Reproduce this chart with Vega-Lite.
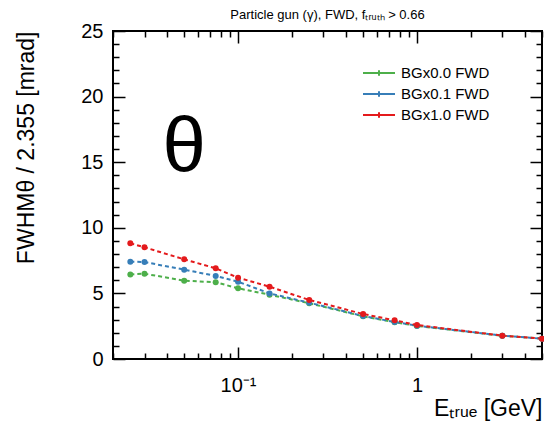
{
  "$schema": "https://vega.github.io/schema/vega-lite/v6.json",
  "width": 429,
  "height": 328,
  "autosize": {"type": "none"},
  "padding": {"left": 113, "top": 31, "right": 2, "bottom": 70},
  "background": "white",
  "config": {
    "view": {"stroke": "black", "strokeWidth": 2},
    "font": "Liberation Sans",
    "axis": {
      "domain": false,
      "grid": false,
      "labelFont": "Liberation Sans",
      "labelFontSize": 20,
      "labelColor": "black",
      "titleFont": "Liberation Sans",
      "titleFontSize": 23,
      "titleFontWeight": "normal",
      "titleColor": "black",
      "tickColor": "black",
      "tickWidth": 1.5
    }
  },
  "title": {
    "text": "Particle gun (γ), FWD, fₜᵣᵤₜₕ > 0.66",
    "font": "Liberation Sans",
    "fontSize": 13,
    "fontWeight": "normal",
    "color": "black",
    "offset": -1
  },
  "data": {
    "values": [
      {"E": 0.025, "fwhm": 6.45, "bg": "BGx0.0 FWD"},
      {"E": 0.03, "fwhm": 6.5, "bg": "BGx0.0 FWD"},
      {"E": 0.05, "fwhm": 5.97, "bg": "BGx0.0 FWD"},
      {"E": 0.075, "fwhm": 5.85, "bg": "BGx0.0 FWD"},
      {"E": 0.1, "fwhm": 5.39, "bg": "BGx0.0 FWD"},
      {"E": 0.15, "fwhm": 4.9, "bg": "BGx0.0 FWD"},
      {"E": 0.25, "fwhm": 4.25, "bg": "BGx0.0 FWD"},
      {"E": 0.5, "fwhm": 3.25, "bg": "BGx0.0 FWD"},
      {"E": 0.75, "fwhm": 2.8, "bg": "BGx0.0 FWD"},
      {"E": 1, "fwhm": 2.52, "bg": "BGx0.0 FWD"},
      {"E": 3, "fwhm": 1.77, "bg": "BGx0.0 FWD"},
      {"E": 5, "fwhm": 1.55, "bg": "BGx0.0 FWD"},
      {"E": 0.025, "fwhm": 7.42, "bg": "BGx0.1 FWD"},
      {"E": 0.03, "fwhm": 7.39, "bg": "BGx0.1 FWD"},
      {"E": 0.05, "fwhm": 6.81, "bg": "BGx0.1 FWD"},
      {"E": 0.075, "fwhm": 6.33, "bg": "BGx0.1 FWD"},
      {"E": 0.1, "fwhm": 5.89, "bg": "BGx0.1 FWD"},
      {"E": 0.15, "fwhm": 5.0, "bg": "BGx0.1 FWD"},
      {"E": 0.25, "fwhm": 4.29, "bg": "BGx0.1 FWD"},
      {"E": 0.5, "fwhm": 3.28, "bg": "BGx0.1 FWD"},
      {"E": 0.75, "fwhm": 2.82, "bg": "BGx0.1 FWD"},
      {"E": 1, "fwhm": 2.54, "bg": "BGx0.1 FWD"},
      {"E": 3, "fwhm": 1.78, "bg": "BGx0.1 FWD"},
      {"E": 5, "fwhm": 1.55, "bg": "BGx0.1 FWD"},
      {"E": 0.025, "fwhm": 8.82, "bg": "BGx1.0 FWD"},
      {"E": 0.03, "fwhm": 8.51, "bg": "BGx1.0 FWD"},
      {"E": 0.05, "fwhm": 7.6, "bg": "BGx1.0 FWD"},
      {"E": 0.075, "fwhm": 6.91, "bg": "BGx1.0 FWD"},
      {"E": 0.1, "fwhm": 6.2, "bg": "BGx1.0 FWD"},
      {"E": 0.15, "fwhm": 5.51, "bg": "BGx1.0 FWD"},
      {"E": 0.25, "fwhm": 4.5, "bg": "BGx1.0 FWD"},
      {"E": 0.5, "fwhm": 3.43, "bg": "BGx1.0 FWD"},
      {"E": 0.75, "fwhm": 2.95, "bg": "BGx1.0 FWD"},
      {"E": 1, "fwhm": 2.59, "bg": "BGx1.0 FWD"},
      {"E": 3, "fwhm": 1.78, "bg": "BGx1.0 FWD"},
      {"E": 5, "fwhm": 1.55, "bg": "BGx1.0 FWD"}
    ]
  },
  "layer": [
    {
      "mark": {"type": "line", "strokeDash": [4, 3], "strokeWidth": 2},
      "encoding": {
        "x": {
          "field": "E",
          "type": "quantitative",
          "scale": {"type": "log", "domain": [0.02, 5], "nice": false},
          "axis": {
            "orient": "bottom",
            "title": "Eₜᵣᵤₑ [GeV]",
            "titleAnchor": "end",
            "titlePadding": -4,
            "values": [0.02, 0.03, 0.04, 0.05, 0.06, 0.07, 0.08, 0.09, 0.1, 0.2, 0.3, 0.4, 0.5, 0.6, 0.7, 0.8, 0.9, 1, 2, 3, 4, 5],
            "labelExpr": "datum.value == 0.1 ? '10⁻¹' : (datum.value == 1 ? '1' : '')",
            "tickSize": {"condition": {"test": "datum.value == 0.1 || datum.value == 1", "value": -12}, "value": -6},
            "labelPadding": 28,
            "labelFlush": false,
            "labelOverlap": false
          }
        },
        "y": {
          "field": "fwhm",
          "type": "quantitative",
          "scale": {"domain": [0, 25], "nice": false},
          "axis": {
            "orient": "left",
            "title": "FWHMθ / 2.355 [mrad]",
            "titleAnchor": "end",
            "titlePadding": 42,
            "values": [0, 1, 2, 3, 4, 5, 6, 7, 8, 9, 10, 11, 12, 13, 14, 15, 16, 17, 18, 19, 20, 21, 22, 23, 24, 25],
            "labelExpr": "datum.value % 5 == 0 ? datum.label : ''",
            "tickSize": {"condition": {"test": "datum.value % 5 == 0", "value": -12}, "value": -6},
            "labelPadding": 22,
            "labelFlush": false,
            "labelOverlap": false
          }
        },
        "color": {
          "field": "bg",
          "type": "nominal",
          "scale": {"domain": ["BGx0.0 FWD", "BGx0.1 FWD", "BGx1.0 FWD"], "range": ["#4daf4a", "#377eb8", "#e41a1c"]},
          "legend": {
            "orient": "none",
            "legendX": 257,
            "legendY": 33,
            "title": null,
            "padding": 0,
            "symbolType": "M-2,0L2,0M0,-0.35L0,0.35",
            "symbolSize": 256,
            "symbolStrokeWidth": 2,
            "symbolDash": [],
            "labelFont": "Liberation Sans",
            "labelFontSize": 15,
            "labelColor": "black",
            "labelOffset": 13,
            "rowPadding": 4
          }
        }
      }
    },
    {
      "mark": {"type": "circle", "size": 36, "opacity": 1},
      "encoding": {
        "x": {
          "field": "E",
          "type": "quantitative",
          "scale": {"type": "log", "domain": [0.02, 5], "nice": false},
          "axis": {
            "orient": "top",
            "title": null,
            "values": [0.02, 0.03, 0.04, 0.05, 0.06, 0.07, 0.08, 0.09, 0.1, 0.2, 0.3, 0.4, 0.5, 0.6, 0.7, 0.8, 0.9, 1, 2, 3, 4, 5],
            "labels": false,
            "tickSize": {"condition": {"test": "datum.value == 0.1 || datum.value == 1", "value": -12}, "value": -6}
          }
        },
        "y": {
          "field": "fwhm",
          "type": "quantitative",
          "scale": {"domain": [0, 25], "nice": false},
          "axis": {
            "orient": "right",
            "title": null,
            "values": [0, 1, 2, 3, 4, 5, 6, 7, 8, 9, 10, 11, 12, 13, 14, 15, 16, 17, 18, 19, 20, 21, 22, 23, 24, 25],
            "labels": false,
            "tickSize": {"condition": {"test": "datum.value % 5 == 0", "value": -12}, "value": -6}
          }
        },
        "fill": {
          "field": "bg",
          "type": "nominal",
          "scale": {"domain": ["BGx0.0 FWD", "BGx0.1 FWD", "BGx1.0 FWD"], "range": ["#4daf4a", "#377eb8", "#e41a1c"]},
          "legend": null
        }
      }
    },
    {
      "data": {"values": [{"t": "θ"}]},
      "mark": {"type": "text", "fontSize": 78, "font": "Liberation Sans", "color": "black", "baseline": "middle", "align": "center"},
      "encoding": {
        "x": {"datum": 0.05, "type": "quantitative", "axis": null},
        "y": {"datum": 16, "type": "quantitative", "axis": null},
        "text": {"field": "t", "type": "nominal"}
      }
    }
  ],
  "resolve": {"axis": {"x": "independent", "y": "independent"}}
}
